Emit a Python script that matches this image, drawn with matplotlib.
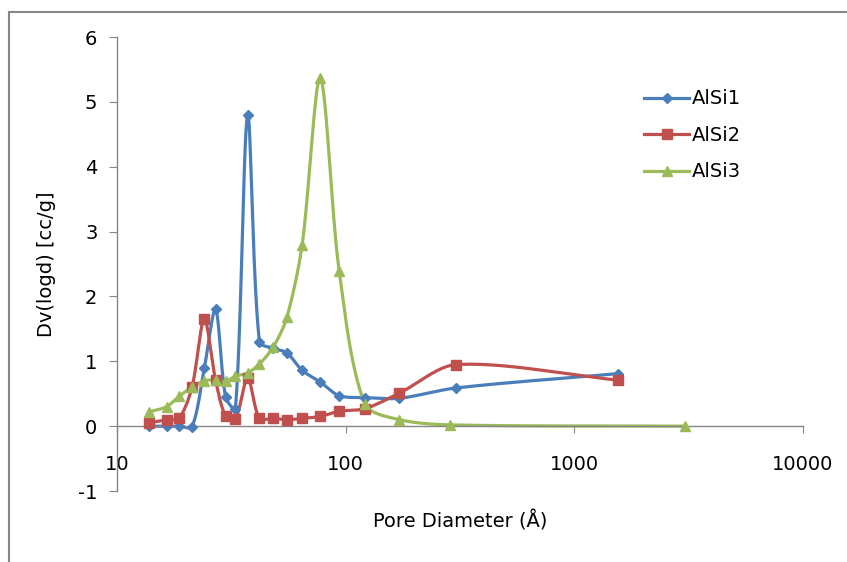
import numpy as np
import matplotlib
matplotlib.use('Agg')
import matplotlib.pyplot as plt
from matplotlib.lines import Line2D
from matplotlib.patches import Rectangle

# pore diameters (Angstrom) and Dv(logd) values
d_grid = [13.8, 16.5, 18.7, 21.3, 24.1, 27.0, 29.9, 33.0, 37.3, 42.0,
          48.3, 55.4, 64.6, 77.5, 93.7, 121.5, 172.0, 305.0, 1550.0]
alsi1 = [0.0, 0.0, 0.0, -0.01, 0.89, 1.8, 0.45, 0.27, 4.8, 1.3,
         1.2, 1.13, 0.86, 0.68, 0.47, 0.44, 0.43, 0.59, 0.81]
alsi2 = [0.05, 0.1, 0.12, 0.6, 1.65, 0.71, 0.15, 0.11, 0.74, 0.12,
         0.12, 0.1, 0.12, 0.15, 0.23, 0.27, 0.51, 0.95, 0.71]
d_alsi3 = [13.8, 16.5, 18.7, 21.3, 24.1, 27.0, 29.9, 33.0, 37.3, 42.0,
           48.3, 55.4, 64.6, 77.5, 93.7, 121.5, 172.0, 285.0, 3050.0]
alsi3 = [0.22, 0.3, 0.46, 0.6, 0.7, 0.71, 0.69, 0.77, 0.82, 0.96,
         1.22, 1.68, 2.8, 5.37, 2.4, 0.34, 0.1, 0.02, 0.0]

names = ['AlSi1', 'AlSi2', 'AlSi3']
colors = ['#4A7EBB', '#C0504D', '#9BBB59']
markers = ['D', 's', '^']
msizes = [5, 7.5, 7]


def smooth(x, y, n=30):
    # smoothed line like excel: bezier segments in screen-like space
    # (229 px per decade, 65 px per unit), tangents scaled by chord length
    sx = np.log10(x) * 229.0
    sy = np.asarray(y, float) * 65.0
    k = len(sx)
    px, py = [], []
    for i in range(k - 1):
        i0, i3 = max(i - 1, 0), min(i + 2, k - 1)
        p0 = np.array([sx[i0], sy[i0]])
        p1 = np.array([sx[i], sy[i]])
        p2 = np.array([sx[i + 1], sy[i + 1]])
        p3 = np.array([sx[i3], sy[i3]])
        d12 = np.hypot(*(p2 - p1))
        d01 = np.hypot(*(p1 - p0))
        d23 = np.hypot(*(p3 - p2))
        t1 = (p2 - p0) / max(d01 + d12, 1e-9) * d12 / 3 * 0.9
        t2 = (p3 - p1) / max(d12 + d23, 1e-9) * d12 / 3 * 0.9
        c1 = p1 + t1
        c2 = p2 - t2
        t = np.linspace(0, 1, n)[:, None]
        b = (1-t)**3*p1 + 3*(1-t)**2*t*c1 + 3*(1-t)*t**2*c2 + t**3*p2
        px.extend(b[:, 0])
        py.extend(b[:, 1])
    return 10**(np.array(px) / 229.0), np.array(py) / 65.0


plt.rcParams['font.family'] = 'DejaVu Sans'
plt.rcParams['axes.unicode_minus'] = False
fig = plt.figure(figsize=(8.47, 5.62), dpi=100)
ax = fig.add_axes([0.138, 0.1263, 0.810, 0.8078])

series = [(d_grid, alsi1), (d_grid, alsi2), (d_alsi3, alsi3)]
handles = []
for (x, y), name, c, m, ms in zip(series, names, colors, markers, msizes):
    sx, sy = smooth(x, y)
    ax.plot(sx, sy, color=c, lw=2.3, zorder=2)
    ax.plot(x, y, ls='none', marker=m, ms=ms, color=c, zorder=3)
    handles.append(Line2D([], [], color=c, lw=2.3, marker=m, ms=ms))

ax.set_xscale('log')
ax.set_xlim(10, 10000)
ax.set_ylim(-1, 6)
ax.set_yticks(range(-1, 7))
ax.set_xticks([10, 100, 1000, 10000])
ax.set_xticklabels(['10', '100', '1000', '10000'])
ax.minorticks_off()

ax.spines['top'].set_visible(False)
ax.spines['right'].set_visible(False)
ax.spines['bottom'].set_position(('data', 0))
for s in ['left', 'bottom']:
    ax.spines[s].set_color('#868686')
    ax.spines[s].set_linewidth(1.0)
ax.tick_params(axis='y', direction='out', length=6, color='#868686',
               labelsize=14, pad=8)
ax.tick_params(axis='x', direction='out', length=5, color='#868686',
               labelsize=14, pad=16)

ax.set_xlabel('Pore Diameter (Å)', fontsize=14)
ax.xaxis.set_label_coords(0.5, -0.043)
ax.set_ylabel('Dv(logd) [cc/g]', fontsize=14)
ax.yaxis.set_label_coords(-0.089, 0.5)

fig.legend(handles, names, loc='upper left', bbox_to_anchor=(0.74, 0.872),
           frameon=False, fontsize=14, handlelength=2.3, labelspacing=0.9,
           handletextpad=0.15)

fig.patches.append(Rectangle((9 / 847, -0.1), 1.2, 1.1 - 12 / 562,
                             transform=fig.transFigure, fill=False,
                             ec='#868686', lw=1.5))

fig.savefig('out.png', dpi=100)
